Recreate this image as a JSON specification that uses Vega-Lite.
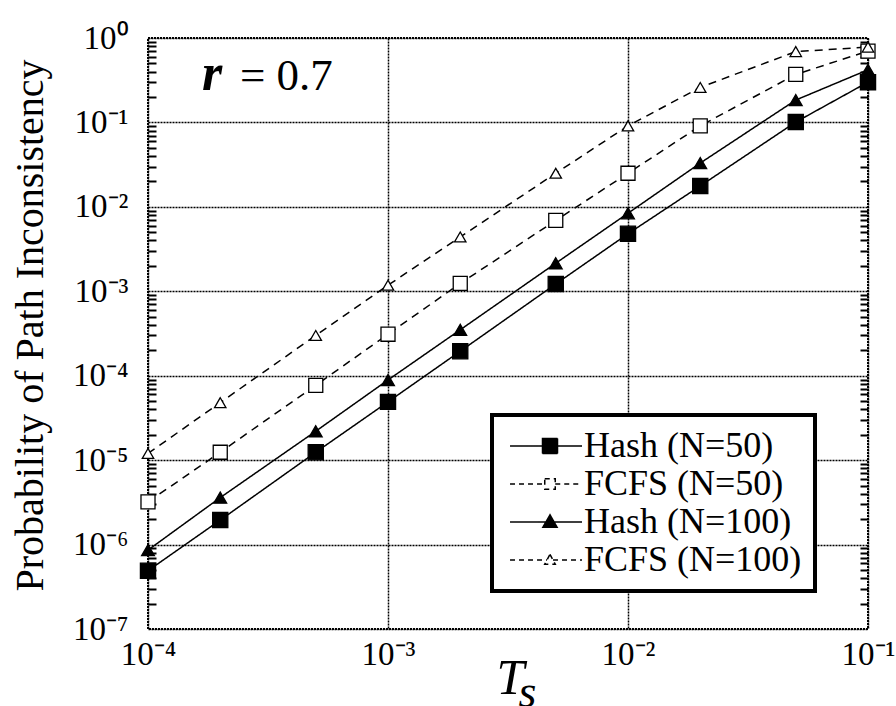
{
  "$schema": "https://vega.github.io/schema/vega-lite/v6.json",
  "width": 720,
  "height": 591,
  "autosize": {"type": "none"},
  "padding": {"left": 148, "top": 38, "right": 28, "bottom": 77},
  "background": "white",
  "config": {
    "font": "Liberation Serif",
    "view": {"stroke": "black", "strokeWidth": 2, "strokeDash": [2, 1]},
    "axis": {"labelFont": "Liberation Serif", "titleFont": "Liberation Serif", "labelColor": "black", "titleColor": "black", "titleFontWeight": "normal", "domain": false, "labelFlush": false},
    "legend": {"strokeWidth": 4}
  },
  "datasets": {
    "curves": [
      {"ts": 0.0001, "p": 4.9e-7, "series": "Hash (N=50)"},
      {"ts": 0.0002, "p": 1.95e-6, "series": "Hash (N=50)"},
      {"ts": 0.0005, "p": 1.24e-5, "series": "Hash (N=50)"},
      {"ts": 0.001, "p": 4.9e-5, "series": "Hash (N=50)"},
      {"ts": 0.002, "p": 1.95e-4, "series": "Hash (N=50)"},
      {"ts": 0.005, "p": 1.22e-3, "series": "Hash (N=50)"},
      {"ts": 0.01, "p": 4.8e-3, "series": "Hash (N=50)"},
      {"ts": 0.02, "p": 1.77e-2, "series": "Hash (N=50)"},
      {"ts": 0.05, "p": 0.101, "series": "Hash (N=50)"},
      {"ts": 0.1, "p": 0.30, "series": "Hash (N=50)"},
      {"ts": 0.0001, "p": 3.2e-6, "series": "FCFS (N=50)"},
      {"ts": 0.0002, "p": 1.24e-5, "series": "FCFS (N=50)"},
      {"ts": 0.0005, "p": 7.7e-5, "series": "FCFS (N=50)"},
      {"ts": 0.001, "p": 3.1e-4, "series": "FCFS (N=50)"},
      {"ts": 0.002, "p": 1.24e-3, "series": "FCFS (N=50)"},
      {"ts": 0.005, "p": 6.9e-3, "series": "FCFS (N=50)"},
      {"ts": 0.01, "p": 2.5e-2, "series": "FCFS (N=50)"},
      {"ts": 0.02, "p": 0.091, "series": "FCFS (N=50)"},
      {"ts": 0.05, "p": 0.37, "series": "FCFS (N=50)"},
      {"ts": 0.1, "p": 0.70, "series": "FCFS (N=50)"},
      {"ts": 0.0001, "p": 8.6e-7, "series": "Hash (N=100)"},
      {"ts": 0.0002, "p": 3.6e-6, "series": "Hash (N=100)"},
      {"ts": 0.0005, "p": 2.2e-5, "series": "Hash (N=100)"},
      {"ts": 0.001, "p": 8.9e-5, "series": "Hash (N=100)"},
      {"ts": 0.002, "p": 3.5e-4, "series": "Hash (N=100)"},
      {"ts": 0.005, "p": 2.15e-3, "series": "Hash (N=100)"},
      {"ts": 0.01, "p": 8.4e-3, "series": "Hash (N=100)"},
      {"ts": 0.02, "p": 3.3e-2, "series": "Hash (N=100)"},
      {"ts": 0.05, "p": 0.184, "series": "Hash (N=100)"},
      {"ts": 0.1, "p": 0.42, "series": "Hash (N=100)"},
      {"ts": 0.0001, "p": 1.2e-5, "series": "FCFS (N=100)"},
      {"ts": 0.0002, "p": 4.8e-5, "series": "FCFS (N=100)"},
      {"ts": 0.0005, "p": 3.0e-4, "series": "FCFS (N=100)"},
      {"ts": 0.001, "p": 1.18e-3, "series": "FCFS (N=100)"},
      {"ts": 0.002, "p": 4.4e-3, "series": "FCFS (N=100)"},
      {"ts": 0.005, "p": 2.5e-2, "series": "FCFS (N=100)"},
      {"ts": 0.01, "p": 0.091, "series": "FCFS (N=100)"},
      {"ts": 0.02, "p": 0.26, "series": "FCFS (N=100)"},
      {"ts": 0.05, "p": 0.69, "series": "FCFS (N=100)"},
      {"ts": 0.1, "p": 0.78, "series": "FCFS (N=100)"}
    ],
    "ann1": [{"ts": 0.0001679, "p": 0.2421, "t": "r"}],
    "ann2": [{"ts": 0.0002417, "p": 0.2421, "t": "= 0.7"}]
  },
  "layer": [
    {
      "data": {"name": "curves"},
      "mark": {"type": "line", "color": "black", "strokeWidth": 1.5},
      "encoding": {
        "x": {
          "field": "ts", "type": "quantitative",
          "scale": {"type": "log", "domain": [0.0001, 0.1], "nice": false},
          "axis": {
            "orient": "bottom",
            "values": [0.0001, 0.001, 0.01, 0.1],
            "labelExpr": "'10' + ['⁰','⁻¹','⁻²','⁻³','⁻⁴','⁻⁵','⁻⁶','⁻⁷'][round(-log(datum.value)/LN10)]",
            "labelFontSize": 33, "labelPadding": 9, "ticks": false,
            "grid": true, "gridColor": "black", "gridDash": [2, 1], "gridWidth": 1.5, "gridOpacity": 1,
            "title": "T", "titleFontSize": 50, "titleFontStyle": "italic",
            "titleX": 362, "titleY": 64, "titleBaseline": "alphabetic", "titleAlign": "center"
          }
        },
        "y": {
          "field": "p", "type": "quantitative",
          "scale": {"type": "log", "domain": [1e-7, 1], "nice": false},
          "axis": {
            "orient": "left",
            "values": [1e-7, 1e-6, 1e-5, 1e-4, 1e-3, 1e-2, 1e-1, 1],
            "labelExpr": "'10' + ['⁰','⁻¹','⁻²','⁻³','⁻⁴','⁻⁵','⁻⁶','⁻⁷'][round(-log(datum.value)/LN10)]",
            "labelFontSize": 33, "labelPadding": 20, "labelBaseline": "middle", "ticks": false,
            "grid": true, "gridColor": "black", "gridDash": [2, 1], "gridWidth": 1.5, "gridOpacity": 1,
            "title": "Probability of Path Inconsistency", "titleFontSize": 40,
            "titleX": -106, "titleY": 287, "titleAngle": -90, "titleBaseline": "alphabetic", "titleAlign": "center"
          }
        },
        "strokeDash": {
          "field": "series", "type": "nominal",
          "scale": {"domain": ["FCFS (N=50)", "FCFS (N=100)", "Hash (N=50)", "Hash (N=100)"], "range": [[8, 6], [8, 6], [1, 0], [1, 0]]},
          "legend": null
        }
      }
    },
    {
      "data": {"name": "curves"},
      "mark": {"type": "point", "filled": true, "stroke": "black", "strokeWidth": 1.3, "opacity": 1},
      "encoding": {
        "x": {
          "field": "ts", "type": "quantitative",
          "scale": {"type": "log", "domain": [0.0001, 0.1], "nice": false},
          "axis": {
            "orient": "bottom", "labels": false, "ticks": false, "grid": false, "domain": false,
            "title": "s", "titleFontSize": 46, "titleFontStyle": "italic",
            "titleX": 370, "titleY": 77, "titleAlign": "left", "titleBaseline": "alphabetic"
          }
        },
        "y": {
          "field": "p", "type": "quantitative",
          "scale": {"type": "log", "domain": [1e-7, 1], "nice": false},
          "axis": {
            "orient": "left",
            "values": [2e-7, 3e-7, 4e-7, 5e-7, 6e-7, 7e-7, 8e-7, 9e-7, 2e-6, 3e-6, 4e-6, 5e-6, 6e-6, 7e-6, 8e-6, 9e-6, 2e-5, 3e-5, 4e-5, 5e-5, 6e-5, 7e-5, 8e-5, 9e-5, 2e-4, 3e-4, 4e-4, 5e-4, 6e-4, 7e-4, 8e-4, 9e-4, 0.002, 0.003, 0.004, 0.005, 0.006, 0.007, 0.008, 0.009, 0.02, 0.03, 0.04, 0.05, 0.06, 0.07, 0.08, 0.09, 0.2, 0.3, 0.4, 0.5, 0.6, 0.7, 0.8, 0.9],
            "labels": false, "grid": false, "ticks": true, "tickSize": -8, "tickColor": "black", "tickWidth": 2, "title": null
          }
        },
        "shape": {
          "field": "series", "type": "nominal",
          "scale": {"domain": ["Hash (N=50)", "FCFS (N=50)", "Hash (N=100)", "FCFS (N=100)"], "range": ["square", "square", "triangle-up", "triangle-up"]},
          "legend": null
        },
        "fill": {
          "field": "series", "type": "nominal",
          "scale": {"domain": ["Hash (N=50)", "FCFS (N=50)", "Hash (N=100)", "FCFS (N=100)"], "range": ["black", "white", "black", "white"]},
          "legend": null
        },
        "size": {
          "field": "series", "type": "nominal",
          "scale": {"domain": ["Hash (N=50)", "FCFS (N=50)", "Hash (N=100)", "FCFS (N=100)"], "range": [230, 130, 210, 150]},
          "legend": null
        }
      }
    },
    {
      "data": {"name": "ann1"},
      "mark": {"type": "text", "font": "Liberation Serif", "fontSize": 52, "fontWeight": "bold", "fontStyle": "italic", "align": "left", "baseline": "alphabetic", "color": "black"},
      "encoding": {
        "x": {"field": "ts", "type": "quantitative", "scale": {"type": "log", "domain": [0.0001, 0.1], "nice": false}, "axis": null},
        "y": {
          "field": "p", "type": "quantitative",
          "scale": {"type": "log", "domain": [1e-7, 1], "nice": false},
          "axis": {
            "orient": "right",
            "values": [2e-7, 3e-7, 4e-7, 5e-7, 6e-7, 7e-7, 8e-7, 9e-7, 2e-6, 3e-6, 4e-6, 5e-6, 6e-6, 7e-6, 8e-6, 9e-6, 2e-5, 3e-5, 4e-5, 5e-5, 6e-5, 7e-5, 8e-5, 9e-5, 2e-4, 3e-4, 4e-4, 5e-4, 6e-4, 7e-4, 8e-4, 9e-4, 0.002, 0.003, 0.004, 0.005, 0.006, 0.007, 0.008, 0.009, 0.02, 0.03, 0.04, 0.05, 0.06, 0.07, 0.08, 0.09, 0.2, 0.3, 0.4, 0.5, 0.6, 0.7, 0.8, 0.9],
            "labels": false, "grid": false, "ticks": true, "tickSize": -8, "tickColor": "black", "tickWidth": 2, "title": null
          }
        },
        "text": {"field": "t", "type": "nominal"}
      }
    },
    {
      "data": {"name": "ann2"},
      "mark": {"type": "text", "font": "Liberation Serif", "fontSize": 45, "align": "left", "baseline": "alphabetic", "color": "black"},
      "encoding": {
        "x": {"field": "ts", "type": "quantitative", "scale": {"type": "log", "domain": [0.0001, 0.1], "nice": false}, "axis": null},
        "y": {"field": "p", "type": "quantitative", "scale": {"type": "log", "domain": [1e-7, 1], "nice": false}, "axis": null},
        "text": {"field": "t", "type": "nominal"}
      }
    },
    {
      "data": {"values": []},
      "mark": {"type": "point", "filled": true, "strokeWidth": 1.5, "opacity": 1},
      "encoding": {
        "x": {"field": "ts", "type": "quantitative", "scale": {"type": "log", "domain": [0.0001, 0.1], "nice": false}, "axis": null},
        "y": {"field": "p", "type": "quantitative", "scale": {"type": "log", "domain": [1e-7, 1], "nice": false}, "axis": null},
        "shape": {
          "field": "series", "type": "nominal",
          "scale": {
            "domain": ["Hash (N=50)", "FCFS (N=50)", "Hash (N=100)", "FCFS (N=100)"],
            "range": [
              "M-1.73,0H2.6M2.6,-1H4.6V1H2.6ZM4.6,0H7.87",
              "M-1.73,0H2.9M2.9,-0.7H4.3V0.7H2.9ZM4.3,0H7.87",
              "M-1.73,0H3.05M3.6,-0.95L4.55,0.7H2.65ZM4.15,0H7.87",
              "M-1.73,0H3.2M3.6,-0.75L4.3,0.55H2.9ZM4,0H7.87"
            ]
          },
          "legend": {
            "title": null, "orient": "none", "legendX": 344, "legendY": 377,
            "labelFont": "Liberation Serif", "labelFontSize": 36, "labelColor": "black", "labelLimit": 400, "labelOffset": 43,
            "symbolSize": 225, "symbolStrokeWidth": 1.5,
            "strokeColor": "black", "fillColor": "white", "padding": 13, "rowPadding": 2
          }
        },
        "fill": {
          "field": "series", "type": "nominal",
          "scale": {"domain": ["Hash (N=50)", "FCFS (N=50)", "Hash (N=100)", "FCFS (N=100)"], "range": ["black", "white", "black", "white"]}
        },
        "stroke": {
          "field": "series", "type": "nominal",
          "scale": {"domain": ["Hash (N=50)", "FCFS (N=50)", "Hash (N=100)", "FCFS (N=100)"], "range": ["black", "black", "black", "black"]}
        },
        "strokeDash": {
          "field": "series", "type": "nominal",
          "scale": {"domain": ["Hash (N=50)", "FCFS (N=50)", "Hash (N=100)", "FCFS (N=100)"], "range": [[1, 0], [5, 4], [1, 0], [5, 4]]}
        }
      }
    }
  ],
  "resolve": {
    "axis": {"x": "independent", "y": "independent"},
    "scale": {"shape": "independent", "fill": "independent", "stroke": "independent", "strokeDash": "independent", "size": "independent"}
  }
}
